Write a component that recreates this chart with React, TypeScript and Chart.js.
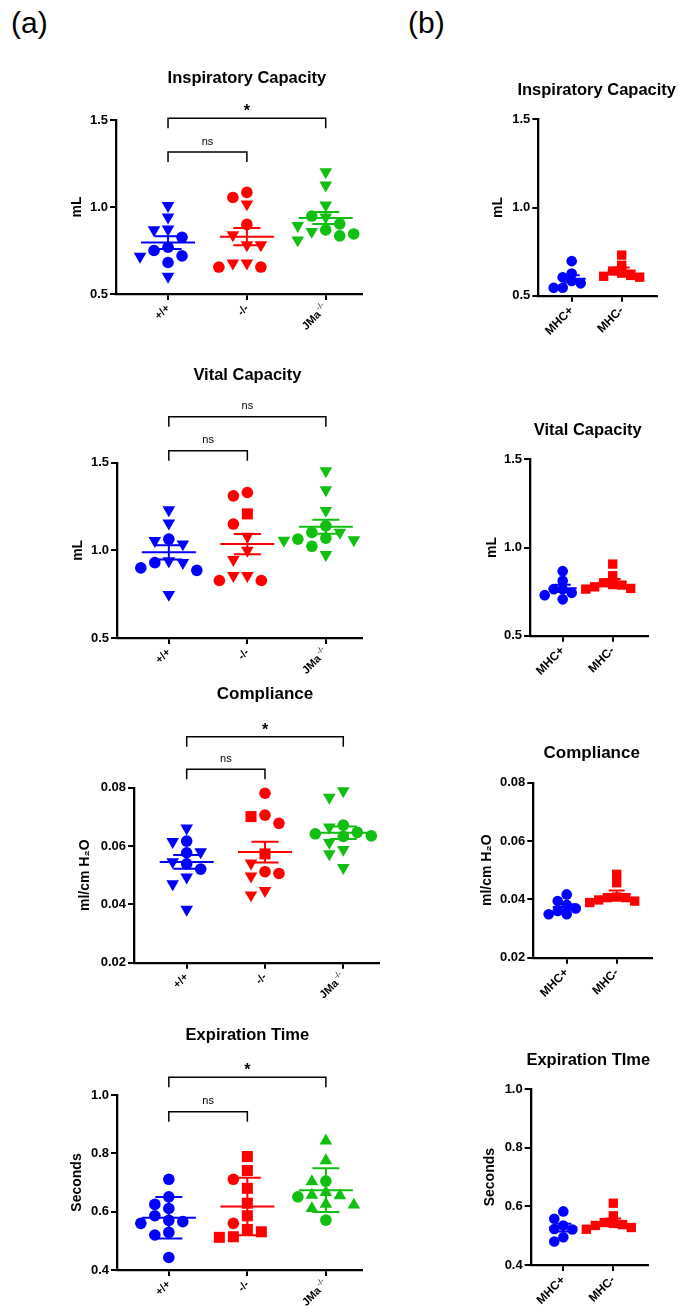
import React, { useEffect, useRef } from 'react';
import { Chart, registerables } from 'chart.js';

Chart.register(...registerables);

const FONT = "'Liberation Sans', Arial, Helvetica, sans-serif";
const BLUE = '#0000ff';
const RED = '#ff0000';
const GREEN = '#10bf10';

// ---------- categories / tick labels ----------
const groupsA = ['+/+', '-/-', 'JMa'];
const groupsASup = ['', '', '-/-'];
const groupsB = ['MHC+', 'MHC-'];

// ---------- (a) Inspiratory Capacity (mL) ----------
const icWT = [1.008, 0.941, 0.872, 0.868, 0.826, 0.769, 0.750, 0.719, 0.716, 0.681, 0.601];
const icWTMarks = ['v', 'v', 'v', 'v', 'o', 'o', 'o', 'o', 'v', 'o', 'v'];
const icKO = [1.084, 1.055, 1.017, 0.900, 0.840, 0.782, 0.782, 0.677, 0.677, 0.655, 0.655];
const icKOMarks = ['o', 'o', 'v', 'o', 'v', 'v', 'v', 'v', 'v', 'o', 'o'];
const icJMa = [1.202, 1.126, 1.011, 0.948, 0.941, 0.903, 0.893, 0.868, 0.859, 0.845, 0.834, 0.810];
const icJMaMarks = ['v', 'v', 'v', 'o', 'v', 'o', 'v', 'o', 'v', 'o', 'o', 'v'];

// ---------- (a) Vital Capacity (mL) ----------
const vcWT = [1.231, 1.155, 1.064, 1.055, 1.036, 0.940, 0.930, 0.930, 0.900, 0.886, 0.748];
const vcWTMarks = ['v', 'v', 'o', 'v', 'v', 'v', 'o', 'v', 'o', 'o', 'v'];
const vcKO = [1.330, 1.311, 1.208, 1.150, 1.080, 1.000, 0.947, 0.856, 0.856, 0.828, 0.828];
const vcKOMarks = ['o', 'o', 's', 'o', 'v', 'v', 'v', 'v', 'v', 'o', 'o'];
const vcJMa = [1.453, 1.345, 1.227, 1.140, 1.102, 1.102, 1.070, 1.064, 1.060, 1.057, 1.023, 0.975];
const vcJMaMarks = ['v', 'v', 'v', 'o', 'o', 'v', 'o', 'o', 'v', 'v', 'o', 'v'];

// ---------- (a) Compliance (ml/cm H2O) ----------
const cWT = [0.0661, 0.0617, 0.0615, 0.0580, 0.0577, 0.0546, 0.0539, 0.0521, 0.0493, 0.0470, 0.0383];
const cWTMarks = ['v', 'o', 'v', 'v', 'o', 'v', 'o', 'o', 'v', 'v', 'v'];
const cKO = [0.0781, 0.0706, 0.0701, 0.0678, 0.0573, 0.0541, 0.0512, 0.0506, 0.0497, 0.0447, 0.0432];
const cKOMarks = ['o', 'o', 's', 'o', 's', 'v', 'o', 'o', 'v', 'v', 'v'];
const cJMa = [0.0789, 0.0767, 0.0672, 0.0665, 0.0647, 0.0642, 0.0635, 0.0633, 0.0612, 0.0588, 0.0573, 0.0526];
const cJMaMarks = ['v', 'v', 'o', 'v', 'o', 'o', 'o', 'o', 'v', 'v', 'v', 'v'];

// ---------- (a) Expiration Time (s) ----------
const eWT = [0.711, 0.651, 0.625, 0.611, 0.586, 0.570, 0.566, 0.560, 0.529, 0.520, 0.443];
const eWTMarks = ['o', 'o', 'o', 'o', 'o', 'o', 'o', 'o', 'o', 'o', 'o'];
const eKO = [0.789, 0.741, 0.711, 0.680, 0.629, 0.586, 0.560, 0.539, 0.531, 0.514, 0.512];
const eKOMarks = ['s', 's', 'o', 's', 's', 's', 'o', 's', 's', 's', 's'];
const eJMa = [0.843, 0.775, 0.705, 0.703, 0.666, 0.657, 0.655, 0.651, 0.626, 0.623, 0.611, 0.571];
const eJMaMarks = ['^', '^', 'o', '^', '^', '^', '^', 'o', '^', '^', '^', 'o'];

// ---------- (b) MHC+ / MHC- ----------
const icPos = [0.696, 0.626, 0.604, 0.583, 0.570, 0.545, 0.545];
const icNeg = [0.730, 0.672, 0.640, 0.628, 0.615, 0.610, 0.605];
const vcPos = [0.866, 0.811, 0.764, 0.764, 0.743, 0.730, 0.706];
const vcNeg = [0.906, 0.840, 0.800, 0.790, 0.787, 0.777, 0.768, 0.764];
const cPos = [0.0417, 0.0394, 0.0381, 0.0369, 0.0360, 0.0349, 0.0349];
const cNeg = [0.0486, 0.0457, 0.0408, 0.0406, 0.0406, 0.0398, 0.0394, 0.0389];
const ePos = [0.583, 0.558, 0.535, 0.523, 0.521, 0.495, 0.480];
const eNeg = [0.611, 0.568, 0.545, 0.542, 0.538, 0.535, 0.528, 0.522];

// ---------- styling ----------
const STYLE_A = { meanHalf: 27, capHalf: 13.5, r: { o: 5.8, v: 7.3, '^': 7.3, s: 7.8 } as any, step: 14, minD: 11, xFont: 11 };
const STYLE_B = { meanHalf: 14, capHalf: 8, r: { o: 5.3, v: 6, '^': 6, s: 6.6 } as any, step: 9, minD: 7.5, xFont: 12 };
const POINT_STYLE: any = { o: 'circle', v: 'triangle', '^': 'triangle', s: 'rect' };

type Group = { values: number[]; marks: string[] | string; color: string };
type Bracket = { from: number; to: number; y: number; text: string };
type Spec = {
  title: string; titleSize: number; titleY: number; titleAt: number;
  yTitle: string; yMin: number; yMax: number; yStep: number; dec: number;
  labels: string[]; sup?: string[]; groups: Group[]; err: 'sem' | 'sd';
  brackets: Bracket[];
  box: { l: number; t: number; r: number; b: number };
  plot: { l: number; t: number; r: number; b: number };
  xMin: number; xMax: number; style: typeof STYLE_A;
};

const specs: Spec[] = [
  {
    title: 'Inspiratory Capacity', titleSize: 16.5, titleY: 78, titleAt: 2,
    yTitle: 'mL', yMin: 0.5, yMax: 1.5, yStep: 0.5, dec: 1,
    labels: groupsA, sup: groupsASup, err: 'sem',
    groups: [
      { values: icWT, marks: icWTMarks, color: BLUE },
      { values: icKO, marks: icKOMarks, color: RED },
      { values: icJMa, marks: icJMaMarks, color: GREEN },
    ],
    brackets: [
      { from: 1, to: 3, y: 1.51, text: '*' },
      { from: 1, to: 2, y: 1.316, text: 'ns' },
    ],
    box: { l: 69, t: 50, r: 400, b: 345 }, plot: { l: 116, t: 120, r: 362, b: 294 },
    xMin: 0.34, xMax: 3.46, style: STYLE_A,
  },
  {
    title: 'Vital Capacity', titleSize: 16.5, titleY: 375.5, titleAt: 2,
    yTitle: 'mL', yMin: 0.5, yMax: 1.5, yStep: 0.5, dec: 1,
    labels: groupsA, sup: groupsASup, err: 'sem',
    groups: [
      { values: vcWT, marks: vcWTMarks, color: BLUE },
      { values: vcKO, marks: vcKOMarks, color: RED },
      { values: vcJMa, marks: vcJMaMarks, color: GREEN },
    ],
    brackets: [
      { from: 1, to: 3, y: 1.762, text: 'ns' },
      { from: 1, to: 2, y: 1.568, text: 'ns' },
    ],
    box: { l: 70, t: 355, r: 400, b: 690 }, plot: { l: 117, t: 462.7, r: 362, b: 638 },
    xMin: 0.34, xMax: 3.46, style: STYLE_A,
  },
  {
    title: 'Compliance', titleSize: 17, titleY: 694.5, titleAt: 2,
    yTitle: 'ml/cm H\u2082O', yMin: 0.02, yMax: 0.08, yStep: 0.02, dec: 2,
    labels: groupsA, sup: groupsASup, err: 'sem',
    groups: [
      { values: cWT, marks: cWTMarks, color: BLUE },
      { values: cKO, marks: cKOMarks, color: RED },
      { values: cJMa, marks: cJMaMarks, color: GREEN },
    ],
    brackets: [
      { from: 1, to: 3, y: 0.0975, text: '*' },
      { from: 1, to: 2, y: 0.0863, text: 'ns' },
    ],
    box: { l: 77, t: 675, r: 400, b: 1012 }, plot: { l: 134, t: 787.7, r: 379, b: 962.7 },
    xMin: 0.327, xMax: 3.456, style: STYLE_A,
  },
  {
    title: 'Expiration Time', titleSize: 16.5, titleY: 1035.7, titleAt: 2,
    yTitle: 'Seconds', yMin: 0.4, yMax: 1.0, yStep: 0.2, dec: 1,
    labels: groupsA, sup: groupsASup, err: 'sd',
    groups: [
      { values: eWT, marks: eWTMarks, color: BLUE },
      { values: eKO, marks: eKOMarks, color: RED },
      { values: eJMa, marks: eJMaMarks, color: GREEN },
    ],
    brackets: [
      { from: 1, to: 3, y: 1.0607, text: '*' },
      { from: 1, to: 2, y: 0.943, text: 'ns' },
    ],
    box: { l: 69, t: 1015, r: 400, b: 1310 }, plot: { l: 117, t: 1095, r: 362, b: 1270 },
    xMin: 0.34, xMax: 3.46, style: STYLE_A,
  },
  {
    title: 'Inspiratory Capacity', titleSize: 16.5, titleY: 90.7, titleAt: 1.5,
    yTitle: 'mL', yMin: 0.5, yMax: 1.5, yStep: 0.5, dec: 1,
    labels: groupsB, err: 'sem',
    groups: [
      { values: icPos, marks: 'o', color: BLUE },
      { values: icNeg, marks: 's', color: RED },
    ],
    brackets: [],
    box: { l: 490, t: 70, r: 679, b: 345 }, plot: { l: 538.3, t: 119.3, r: 656.7, b: 295.7 },
    xMin: 0.332, xMax: 2.70, style: STYLE_B,
  },
  {
    title: 'Vital Capacity', titleSize: 16.5, titleY: 430.7, titleAt: 1.5,
    yTitle: 'mL', yMin: 0.5, yMax: 1.5, yStep: 0.5, dec: 1,
    labels: groupsB, err: 'sem',
    groups: [
      { values: vcPos, marks: 'o', color: BLUE },
      { values: vcNeg, marks: 's', color: RED },
    ],
    brackets: [],
    box: { l: 484, t: 410, r: 679, b: 690 }, plot: { l: 530, t: 459.3, r: 648.3, b: 635.7 },
    xMin: 0.346, xMax: 2.712, style: STYLE_B,
  },
  {
    title: 'Compliance', titleSize: 17, titleY: 753.3, titleAt: 1.5,
    yTitle: 'ml/cm H\u2082O', yMin: 0.02, yMax: 0.08, yStep: 0.02, dec: 2,
    labels: groupsB, err: 'sem',
    groups: [
      { values: cPos, marks: 'o', color: BLUE },
      { values: cNeg, marks: 's', color: RED },
    ],
    brackets: [],
    box: { l: 479, t: 735, r: 679, b: 1012 }, plot: { l: 533.3, t: 782.7, r: 651.7, b: 957.7 },
    xMin: 0.332, xMax: 2.70, style: STYLE_B,
  },
  {
    title: 'Expiration TIme', titleSize: 16.5, titleY: 1060.7, titleAt: 1.5,
    yTitle: 'Seconds', yMin: 0.4, yMax: 1.0, yStep: 0.2, dec: 1,
    labels: groupsB, err: 'sem',
    groups: [
      { values: ePos, marks: 'o', color: BLUE },
      { values: eNeg, marks: 's', color: RED },
    ],
    brackets: [],
    box: { l: 482, t: 1040, r: 679, b: 1310 }, plot: { l: 530.7, t: 1089.3, r: 648.3, b: 1265 },
    xMin: 0.348, xMax: 2.70, style: STYLE_B,
  },
];

// horizontal spreading of points with similar values (scatter dot plot)
function swarm(vals: number[], pxPerY: number, step: number, minD: number): number[] {
  const order = vals.map((_, i) => i).sort((a, b) => vals[b] - vals[a]);
  const placed: [number, number][] = [];
  const off = new Array(vals.length).fill(0);
  for (const i of order) {
    const y = vals[i] * pxPerY;
    for (let k = 0; k < 40; k++) {
      const mag = Math.ceil(k / 2) * step;
      const dx = k === 0 ? 0 : k % 2 ? -mag : mag;
      if (placed.every(([px, py]) => (px - dx) ** 2 + (py - y) ** 2 >= minD * minD)) {
        off[i] = dx;
        placed.push([dx, y]);
        break;
      }
    }
  }
  return off;
}

function makeAnnot(s: Spec) {
  return {
    id: 'annot',
    afterDraw(chart: any) {
      const { ctx } = chart;
      const xs = chart.scales.x;
      const ys = chart.scales.y;
      ctx.save();
      ctx.fillStyle = '#000';
      ctx.strokeStyle = '#000';
      ctx.textAlign = 'center';
      ctx.textBaseline = 'middle';
      ctx.font = `bold ${s.titleSize}px ${FONT}`;
      ctx.fillText(s.title, xs.getPixelForValue(s.titleAt), s.titleY - s.box.t);
      ctx.lineWidth = 1.5;
      for (const b of s.brackets) {
        const x1 = xs.getPixelForValue(b.from);
        const x2 = xs.getPixelForValue(b.to);
        const y = ys.getPixelForValue(b.y);
        ctx.beginPath();
        ctx.moveTo(x1, y + 10);
        ctx.lineTo(x1, y);
        ctx.lineTo(x2, y);
        ctx.lineTo(x2, y + 10);
        ctx.stroke();
        ctx.textBaseline = 'alphabetic';
        if (b.text === '*') {
          ctx.font = `bold 16px ${FONT}`;
          ctx.fillText(b.text, (x1 + x2) / 2, y - 2);
        } else {
          ctx.font = `11px ${FONT}`;
          ctx.fillText(b.text, (x1 + x2) / 2, y - 7.5);
        }
      }
      if (s.sup && xs.getLabelItems) {
        const items = xs.getLabelItems();
        items.forEach((it: any, i: number) => {
          const sup = s.sup![i];
          if (!sup) return;
          const op = it.options;
          ctx.save();
          ctx.translate(op.translation[0], op.translation[1]);
          ctx.rotate(op.rotation);
          ctx.font = `8px ${FONT}`;
          ctx.textAlign = 'right';
          ctx.textBaseline = op.textBaseline;
          ctx.fillText(sup, 0, it.textOffset - 4);
          ctx.restore();
        });
      }
      ctx.restore();
    },
  };
}

function buildConfig(s: Spec): any {
  const st = s.style;
  const plotW = s.plot.r - s.plot.l;
  const plotH = s.plot.b - s.plot.t;
  const pxPerCat = plotW / (s.xMax - s.xMin);
  const pxPerY = plotH / (s.yMax - s.yMin);
  const lines: any[] = [];
  const points: any[] = [];
  s.groups.forEach((g, gi) => {
    const c = gi + 1;
    const n = g.values.length;
    const mean = g.values.reduce((a, b) => a + b, 0) / n;
    const sd = Math.sqrt(g.values.reduce((a, v) => a + (v - mean) ** 2, 0) / (n - 1));
    const e = s.err === 'sd' ? sd : sd / Math.sqrt(n);
    const hw = st.meanHalf / pxPerCat;
    const cw = st.capHalf / pxPerCat;
    const gap = { x: c, y: null };
    lines.push({
      type: 'line',
      data: [
        { x: c - hw, y: mean }, { x: c + hw, y: mean }, gap,
        { x: c, y: mean - e }, { x: c, y: mean + e }, gap,
        { x: c - cw, y: mean + e }, { x: c + cw, y: mean + e }, gap,
        { x: c - cw, y: mean - e }, { x: c + cw, y: mean - e },
      ],
      borderColor: g.color,
      borderWidth: 2,
      pointRadius: 0,
      pointHoverRadius: 0,
      spanGaps: false,
      fill: false,
      tension: 0,
      clip: false,
    });
    const offs = swarm(g.values, pxPerY, st.step, st.minD);
    const marks = g.values.map((_, i) => (typeof g.marks === 'string' ? g.marks : g.marks[i]));
    points.push({
      type: 'scatter',
      data: g.values.map((v, i) => ({ x: c + offs[i] / pxPerCat, y: v, m: marks[i] })),
      pointStyle: (ctx: any) => POINT_STYLE[ctx.raw?.m] ?? 'circle',
      pointRotation: (ctx: any) => (ctx.raw?.m === 'v' ? 180 : 0),
      pointRadius: (ctx: any) => st.r[ctx.raw?.m] ?? 5,
      pointBackgroundColor: g.color,
      pointBorderColor: g.color,
      pointBorderWidth: 0,
      showLine: false,
      clip: false,
    });
  });

  return {
    type: 'scatter',
    data: { datasets: [...lines, ...points] },
    plugins: [makeAnnot(s)],
    options: {
      responsive: false,
      animation: false,
      devicePixelRatio: 1,
      events: [],
      layout: {
        padding: { left: 0, bottom: 0, top: s.plot.t - s.box.t, right: s.box.r - s.plot.r },
      },
      plugins: { legend: { display: false }, tooltip: { enabled: false }, title: { display: false } },
      scales: {
        x: {
          type: 'linear',
          min: s.xMin,
          max: s.xMax,
          afterBuildTicks: (sc: any) => {
            sc.ticks = s.labels.map((_, i) => ({ value: i + 1 }));
          },
          afterFit: (sc: any) => {
            sc.height = s.box.b - s.plot.b;
          },
          ticks: {
            autoSkip: false,
            minRotation: 45,
            maxRotation: 45,
            padding: 2,
            color: '#000',
            font: { family: FONT, size: st.xFont, weight: 'bold' },
            callback: (_v: any, i: number) => s.labels[i] + (s.sup && s.sup[i] ? '   ' : ''),
          },
          grid: { drawOnChartArea: false, drawTicks: true, tickLength: 6, color: '#000', lineWidth: 2 },
          border: { display: true, color: '#000', width: 2.3 },
        },
        y: {
          type: 'linear',
          min: s.yMin,
          max: s.yMax,
          afterFit: (sc: any) => {
            sc.width = s.plot.l - s.box.l;
          },
          ticks: {
            stepSize: s.yStep,
            padding: 2,
            color: '#000',
            font: { family: FONT, size: 13, weight: 'bold' },
            callback: (v: any) => Number(v).toFixed(s.dec),
          },
          grid: { drawOnChartArea: false, drawTicks: true, tickLength: 6, color: '#000', lineWidth: 2 },
          border: { display: true, color: '#000', width: 2.3 },
          title: {
            display: true,
            text: s.yTitle,
            color: '#000',
            font: { family: FONT, size: 14, weight: 'bold' },
            padding: { top: 0, bottom: 0 },
          },
        },
      },
    },
  };
}

function Panel({ spec }: { spec: Spec }) {
  const ref = useRef<HTMLCanvasElement | null>(null);
  const W = spec.box.r - spec.box.l;
  const H = spec.box.b - spec.box.t;
  useEffect(() => {
    if (!ref.current) return;
    const chart = new Chart(ref.current, buildConfig(spec));
    return () => chart.destroy();
  }, [spec]);
  return (
    <canvas
      ref={ref}
      width={W}
      height={H}
      style={{ position: 'absolute', left: spec.box.l, top: spec.box.t, width: W, height: H }}
    />
  );
}

const panelLabel: React.CSSProperties = {
  position: 'absolute',
  fontFamily: FONT,
  fontSize: 30,
  lineHeight: '30px',
  color: '#000',
};

export default function App() {
  return (
    <div style={{ position: 'absolute', left: 0, top: 0, width: 679, height: 1310, background: '#fff', overflow: 'hidden' }}>
      <div style={{ ...panelLabel, left: 11, top: 8 }}>(a)</div>
      <div style={{ ...panelLabel, left: 408, top: 8 }}>(b)</div>
      {specs.map((s, i) => (
        <Panel key={i} spec={s} />
      ))}
    </div>
  );
}
